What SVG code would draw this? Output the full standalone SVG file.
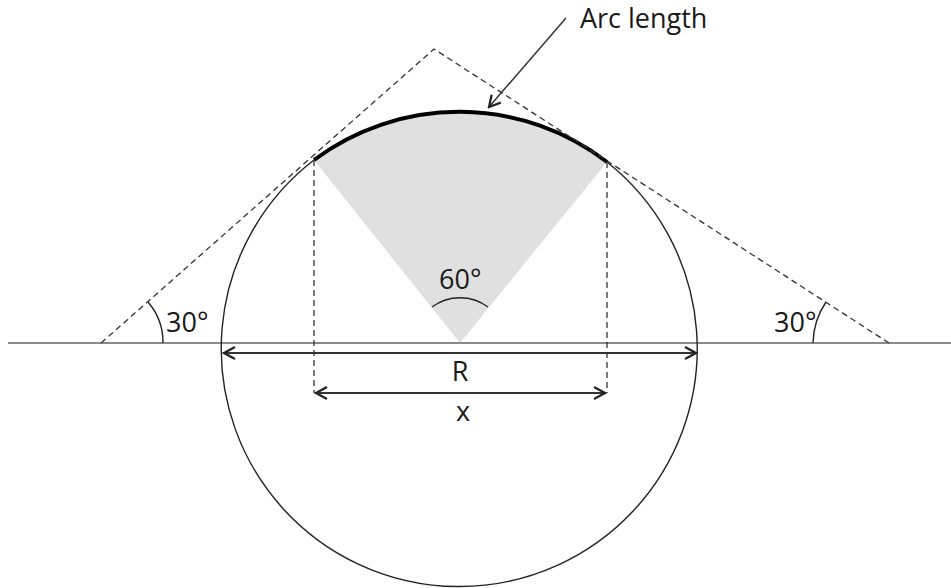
<svg xmlns="http://www.w3.org/2000/svg" width="951" height="588" viewBox="0 0 951 588">
<style>
  .t { font-family: "Open Sans", "Liberation Sans", sans-serif; font-size: 27px; fill: #1a1a1a; }
  .dash { fill: none; stroke: #333; stroke-width: 1.3; stroke-dasharray: 6 4; }
  .thin { fill: none; stroke: #222; stroke-width: 1.4; }
  .dim { fill: none; stroke: #333; stroke-width: 2; }
</style>
<defs>
  <marker id="chev" markerUnits="userSpaceOnUse" markerWidth="16" markerHeight="16" viewBox="-14 -8 16 16" refX="0" refY="0" orient="auto-start-reverse">
    <path d="M-11,-6 L0,0 L-11,6" fill="none" stroke="#222" stroke-width="2.2"/>
  </marker>
</defs>
<rect width="951" height="588" fill="#ffffff"/>
<g id="sector">
  <path d="M460,343 L314,160 A243,243 0 0,1 607,162 Z" fill="#e0e0e0"/>
</g>
<g id="baseline">
  <line x1="8" y1="343" x2="951" y2="343" stroke="#8a8a8a" stroke-width="2.2"/>
</g>
<g id="circle">
  <path d="M314,160 A238,238 0 1,0 607,162" class="thin"/>
</g>
<g id="arc-length">
  <path d="M314,160 A243,243 0 0,1 607,162" fill="none" stroke="#000" stroke-width="4"/>
</g>
<g id="triangle">
  <polyline points="101,343 434,49 889,343" class="dash"/>
</g>
<g id="verticals">
  <line x1="314" y1="160" x2="314" y2="393" class="dash"/>
  <line x1="607" y1="162" x2="607" y2="393" class="dash"/>
</g>
<g id="angles">
  <path d="M163,343 A62,62 0 0,0 148,302" class="thin"/>
  <path d="M813,343 A76,76 0 0,1 826,302" class="thin"/>
  <path d="M432,307 A47,47 0 0,1 488,307" class="thin"/>
</g>
<g id="connectors">
  <line x1="224" y1="353" x2="696" y2="353" class="dim" marker-start="url(#chev)" marker-end="url(#chev)"/>
  <line x1="316" y1="393" x2="605" y2="393" class="dim" marker-start="url(#chev)" marker-end="url(#chev)"/>
  <line x1="566" y1="18" x2="489" y2="107" stroke="#333" stroke-width="1.5" marker-end="url(#chev)"/>
</g>
<g id="labels">
  <text class="t" x="580" y="28">Arc length</text>
  <text class="t" x="166" y="332">30°</text>
  <text class="t" x="774" y="332">30°</text>
  <text class="t" x="439" y="289">60°</text>
  <text class="t" x="460" y="381" text-anchor="middle">R</text>
  <text class="t" x="463" y="421" text-anchor="middle">x</text>
</g>
</svg>
